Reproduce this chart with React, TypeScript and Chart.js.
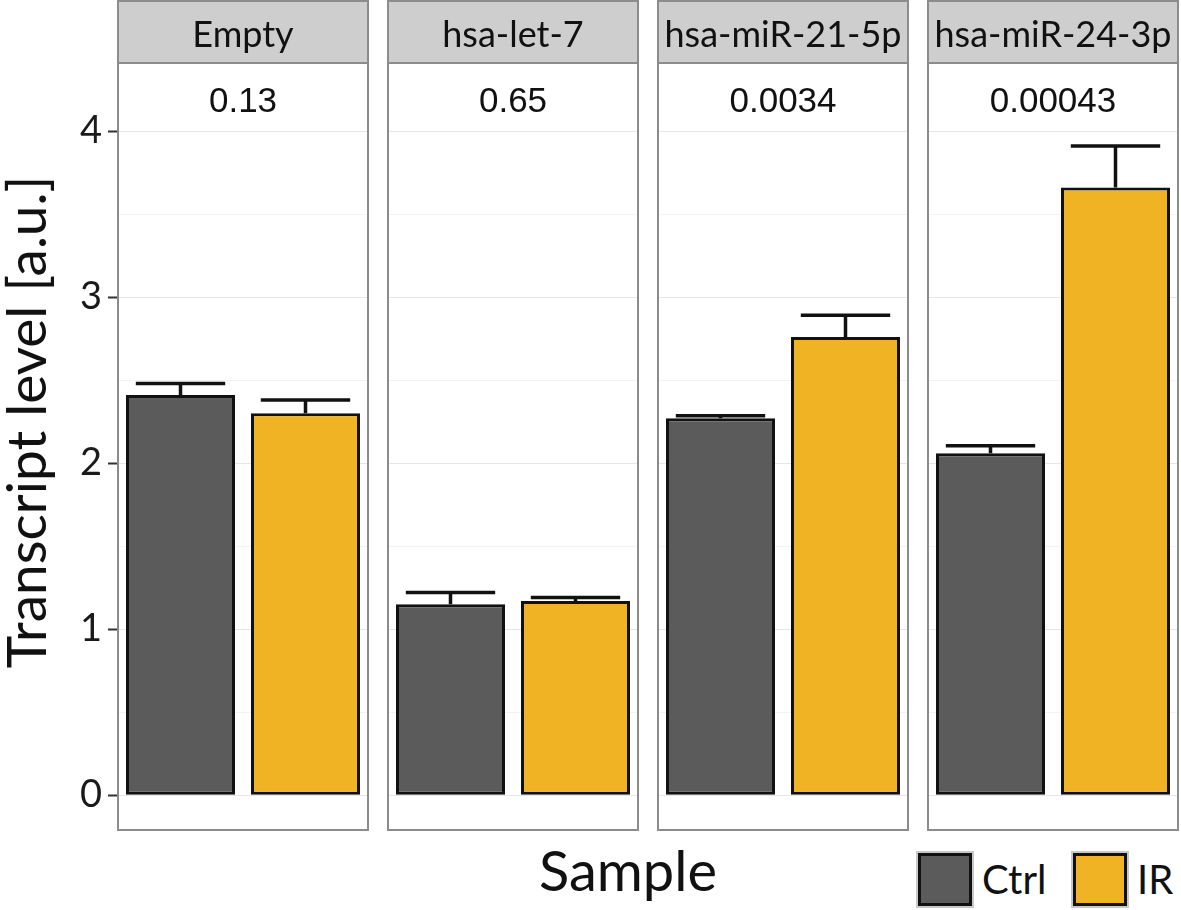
import React, { useEffect, useRef } from 'react';
import { Chart, registerables } from 'chart.js';

Chart.register(...registerables);

// ---- data ----
const panels = ['Empty', 'hsa-let-7', 'hsa-miR-21-5p', 'hsa-miR-24-3p'];
const pValues = ['0.13', '0.65', '0.0034', '0.00043'];
const groups = ['Ctrl', 'IR'];
const ctrlMean = [2.41, 1.15, 2.27, 2.06];
const irMean = [2.3, 1.17, 2.76, 3.66];
const ctrlErr = [0.07, 0.07, 0.015, 0.045];
const irErr = [0.08, 0.02, 0.13, 0.25];
const yMajor = [0, 1, 2, 3, 4];
const yMinor = [0.5, 1.5, 2.5, 3.5];
const yTitle = 'Transcript level [a.u.]';
const xTitle = 'Sample';

// ---- styles / layout ----
const COLORS: Record<string, string> = { Ctrl: '#5b5b5b', IR: '#f0b323' };
const PANEL_LEFT = [118, 388, 658, 928];
const PANEL_W = 250;
const STRIP_TOP = 1;
const PLOT_TOP = 63;
const PLOT_BOTTOM = 830;
const CANVAS_H = 840;
const FRAME = '#8c8c8c';

function facetPlugin(i: number) {
  return {
    id: 'facet' + i,
    afterDatasetsDraw(chart: any) {
      const ctx = chart.ctx;
      const meta = chart.getDatasetMeta(0);
      const y = chart.scales.y;
      const means = [ctrlMean[i], irMean[i]];
      const errs = [ctrlErr[i], irErr[i]];
      ctx.save();
      ctx.strokeStyle = '#111';
      ctx.lineWidth = 3.5;
      meta.data.forEach((el: any, j: number) => {
        const top = y.getPixelForValue(means[j] + errs[j]);
        const base = y.getPixelForValue(means[j]);
        const half = el.width * 0.41;
        ctx.beginPath();
        ctx.moveTo(el.x, base);
        ctx.lineTo(el.x, top);
        ctx.moveTo(el.x - half, top);
        ctx.lineTo(el.x + half, top);
        ctx.stroke();
      });
      ctx.restore();
    },
    afterDraw(chart: any) {
      const ctx = chart.ctx;
      const a = chart.chartArea;
      const w = a.right - a.left;
      const cx = (a.left + a.right) / 2;
      ctx.save();
      // strip
      ctx.fillStyle = '#cecece';
      ctx.fillRect(a.left, STRIP_TOP, w, PLOT_TOP - STRIP_TOP);
      ctx.strokeStyle = FRAME;
      ctx.lineWidth = 2;
      ctx.strokeRect(a.left, STRIP_TOP, w, PLOT_TOP - STRIP_TOP);
      ctx.fillStyle = '#111';
      ctx.font = '36px Lato';
      ctx.textAlign = 'center';
      ctx.textBaseline = 'alphabetic';
      ctx.fillText(panels[i], cx, 47);
      // panel border
      ctx.strokeRect(a.left, a.top, w, a.bottom - a.top);
      // p-value
      ctx.font = '35px "Liberation Sans"';
      ctx.fillText(pValues[i], cx, 112);
      // y title
      if (i === 0) {
        ctx.translate(28, 422);
        ctx.rotate(-Math.PI / 2);
        ctx.font = '55px Lato';
        ctx.textBaseline = 'middle';
        ctx.fillText(yTitle, 0, 0);
      }
      ctx.restore();
    },
  };
}

function Panel({ index }: { index: number }) {
  const ref = useRef<HTMLCanvasElement>(null);
  const first = index === 0;
  const left = first ? 0 : PANEL_LEFT[index] - 2;
  const width = first ? PANEL_LEFT[0] + PANEL_W + 2 : PANEL_W + 4;
  useEffect(() => {
    const isMajor = (v: number) => yMajor.includes(v);
    const chart = new Chart(ref.current as HTMLCanvasElement, {
      type: 'bar',
      data: {
        labels: groups,
        datasets: [
          {
            data: [ctrlMean[index], irMean[index]],
            backgroundColor: groups.map((g) => COLORS[g]),
            borderColor: '#111',
            borderWidth: 3,
            borderSkipped: false,
            barPercentage: 0.872,
            categoryPercentage: 1,
          },
        ],
      },
      options: {
        responsive: false,
        animation: false,
        layout: {
          padding: { top: PLOT_TOP, bottom: CANVAS_H - PLOT_BOTTOM, left: first ? 0 : 2, right: 2 },
        },
        plugins: { legend: { display: false }, tooltip: { enabled: false } },
        scales: {
          x: { display: false },
          y: {
            min: -0.21,
            max: 4.41,
            afterBuildTicks: (s: any) => {
              s.ticks = [...yMajor, ...yMinor].sort((p, q) => p - q).map((v) => ({ value: v }));
            },
            afterFit: (s: any) => {
              s.width = first ? PANEL_LEFT[0] : 0;
              s.paddingTop = 0;
              s.paddingBottom = 0;
            },
            border: { display: false },
            grid: {
              color: (c: any) => (c.tick && isMajor(c.tick.value) ? '#e6e6e6' : '#f3f3f3'),
              lineWidth: 1,
              drawTicks: first,
              tickLength: 10,
              tickWidth: 2,
              tickColor: (c: any) => (c.tick && isMajor(c.tick.value) ? '#333' : 'rgba(0,0,0,0)'),
            },
            ticks: {
              display: first,
              autoSkip: false,
              padding: 6,
              color: '#1a1a1a',
              font: { family: 'Lato', size: 38 },
              callback: (v: any) => (isMajor(Number(v)) ? String(v) : ''),
            },
          },
        },
      },
      plugins: [facetPlugin(index)],
    } as any);
    return () => chart.destroy();
  }, []);
  return (
    <div style={{ position: 'absolute', left, top: 0, width, height: CANVAS_H }}>
      <canvas ref={ref} width={width} height={CANVAS_H} style={{ width, height: CANVAS_H, display: 'block' }} />
    </div>
  );
}

function LegendItem({ label, left, textLeft }: { label: string; left: number; textLeft: number }) {
  return (
    <>
      <div
        style={{
          position: 'absolute',
          left,
          top: 853,
          width: 48,
          height: 47,
          background: COLORS[label],
          border: '3px solid #111',
          boxShadow: '0 0 0 2px #c8c8c8',
        }}
      />
      <div
        style={{
          position: 'absolute',
          left: textLeft,
          top: 855,
          fontFamily: 'Lato',
          fontSize: 40,
          lineHeight: '48px',
          color: '#111',
          whiteSpace: 'nowrap',
        }}
      >
        {label}
      </div>
    </>
  );
}

export default function App() {
  return (
    <div style={{ position: 'absolute', left: 0, top: 0, width: 1181, height: 910, background: '#fff', overflow: 'hidden' }}>
      {panels.map((_, i) => (
        <Panel key={i} index={i} />
      ))}
      <div
        style={{
          position: 'absolute',
          left: 478,
          width: 300,
          top: 836,
          textAlign: 'center',
          fontFamily: 'Lato',
          fontSize: 56,
          lineHeight: '67px',
          color: '#111',
        }}
      >
        {xTitle}
      </div>
      <LegendItem label="Ctrl" left={918} textLeft={982} />
      <LegendItem label="IR" left={1073} textLeft={1137} />
    </div>
  );
}
